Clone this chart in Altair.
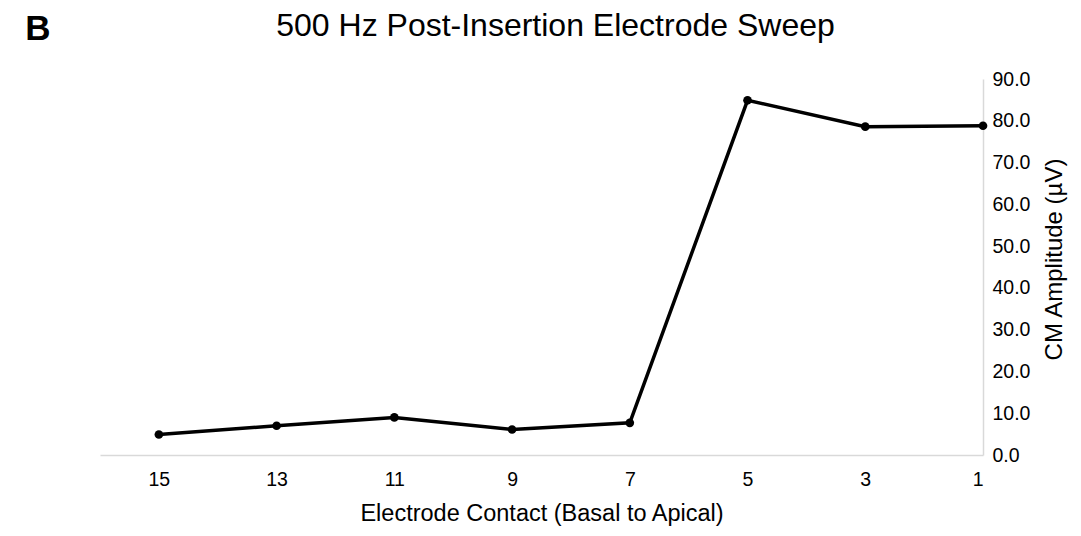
import altair as alt
import pandas as pd

contacts = [15, 13, 11, 9, 7, 5, 3, 1]
amplitudes = [4.9, 7.0, 9.0, 6.1, 7.7, 84.9, 78.6, 78.8]
y_ticks = [0, 10, 20, 30, 40, 50, 60, 70, 80, 90]

df = pd.DataFrame({"contact": contacts, "amp": amplitudes})
FONT = "Liberation Sans"

x_enc = alt.X(
    "contact:Q",
    scale=alt.Scale(domain=[1, 16], reverse=True, nice=False, zero=False),
    axis=alt.Axis(
        values=contacts, format="d", ticks=False, grid=False,
        domainColor="#d9d9d9", domainWidth=1.5,
        labelFont=FONT, labelFontSize=19.5, labelColor="#000000", labelPadding=15,
        title="Electrode Contact (Basal to Apical)", titleFont=FONT,
        titleFontSize=23.5, titleFontWeight="normal", titleColor="#000000",
        titlePadding=13,
    ),
)
y_enc = alt.Y(
    "amp:Q",
    scale=alt.Scale(domain=[0, 90], nice=False),
    axis=alt.Axis(
        orient="right", values=y_ticks, format=".1f", ticks=False, grid=False,
        domainColor="#d9d9d9", domainWidth=1.5,
        labelFont=FONT, labelFontSize=19.5, labelColor="#000000", labelPadding=9,
        title="CM Amplitude (µV)", titleFont=FONT, titleFontSize=24,
        titleFontWeight="normal", titleColor="#000000", titleAngle=270,
        titlePadding=37, titleY=180,
    ),
)

line = alt.Chart(df).mark_line(color="#000000", strokeWidth=3.5).encode(x=x_enc, y=y_enc)
pts = alt.Chart(df).mark_point(filled=True, color="#000000", size=75, opacity=1).encode(x=x_enc, y=y_enc)

label = alt.Chart(alt.Data(values=[{"t": "B"}])).mark_text(
    font=FONT, fontSize=35, fontWeight="bold", color="#000000",
    align="center", baseline="middle",
).encode(text="t:N", x=alt.value(-62), y=alt.value(-50))

chart = alt.layer(line, pts, label).properties(
    width=883,
    height=376,
    padding={"left": 92, "top": 71, "right": 89, "bottom": 73},
    autosize=alt.AutoSizeParams(type="none"),
    title=alt.TitleParams(
        "500 Hz Post-Insertion Electrode Sweep", font=FONT, fontSize=32,
        fontWeight="normal", color="#000000", anchor="middle", offset=-31, dx=14,
    ),
).configure_view(stroke=None)

chart.save("out.html", embed_options={"renderer": "svg", "actions": False})
